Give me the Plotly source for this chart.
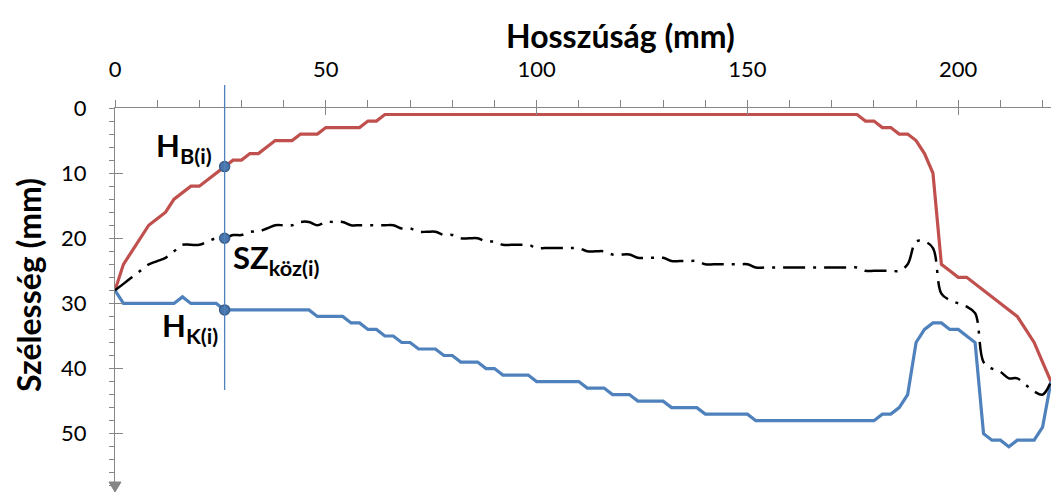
import plotly.graph_objects as go

# ---- data ----
X_MM = list(range(0, 224, 2))  # Hosszúság (mm)

HB = [28, 24, 22, 20, 18, 17, 16, 14, 13, 12,
      12, 11, 10, 9, 8, 8, 7, 7, 6, 5,
      5, 5, 4, 4, 4, 3, 3, 3, 3, 3,
      2, 2, 1, 1, 1, 1, 1, 1, 1, 1,
      1, 1, 1, 1, 1, 1, 1, 1, 1, 1,
      1, 1, 1, 1, 1, 1, 1, 1, 1, 1,
      1, 1, 1, 1, 1, 1, 1, 1, 1, 1,
      1, 1, 1, 1, 1, 1, 1, 1, 1, 1,
      1, 1, 1, 1, 1, 1, 1, 1, 1, 2,
      2, 3, 3, 4, 4, 5, 7, 10, 24, 25,
      26, 26, 27, 28, 29, 30, 31, 32, 34, 36,
      39, 42]

HK = [28, 30, 30, 30, 30, 30, 30, 30, 29, 30,
      30, 30, 30, 31, 31, 31, 31, 31, 31, 31,
      31, 31, 31, 31, 32, 32, 32, 32, 33, 33,
      34, 34, 35, 35, 36, 36, 37, 37, 37, 38,
      38, 39, 39, 39, 40, 40, 41, 41, 41, 41,
      42, 42, 42, 42, 42, 42, 43, 43, 43, 44,
      44, 44, 45, 45, 45, 45, 46, 46, 46, 46,
      47, 47, 47, 47, 47, 47, 48, 48, 48, 48,
      48, 48, 48, 48, 48, 48, 48, 48, 48, 48,
      48, 47, 47, 46, 44, 36, 34, 33, 33, 34,
      34, 35, 36, 50, 51, 51, 52, 51, 51, 51,
      49, 42]

SZ = [28, 27, 26, 25, 24, 23.5, 23, 22, 21, 21,
      21, 20.5, 20, 20, 19.5, 19.5, 19, 19, 18.5, 18,
      18, 18, 17.5, 17.5, 18, 17.5, 17.5, 17.5, 18, 18,
      18, 18, 18, 18, 18.5, 18.5, 19, 19, 19, 19.5,
      19.5, 20, 20, 20, 20.5, 20.5, 21, 21, 21, 21,
      21.5, 21.5, 21.5, 21.5, 21.5, 21.5, 22, 22, 22, 22.5,
      22.5, 22.5, 23, 23, 23, 23, 23.5, 23.5, 23.5, 23.5,
      24, 24, 24, 24, 24, 24, 24.5, 24.5, 24.5, 24.5,
      24.5, 24.5, 24.5, 24.5, 24.5, 24.5, 24.5, 24.5, 24.5, 25,
      25, 25, 25, 25, 24, 20.5, 20.5, 21.5, 28.5, 29.5,
      30, 30.5, 31.5, 39, 40, 40.5, 41.5, 41.5, 42.5, 43.5,
      44, 42]

GUIDE_X = 26          # position of the section line i (mm)
GUIDE_BOTTOM = 43.3   # lower end of the section line (mm)
X_MAX = 222
Y_MAX = 58.8

X_TITLE = "Hosszúság (mm)"
Y_TITLE = "Szélesség (mm)"

FONT = "Lato"
AXIS_GRAY = "#868686"
RED = "#C0504D"
BLUE = "#4F81BD"

fig = go.Figure()

fig.add_trace(go.Scatter(x=X_MM, y=HB, mode="lines",
                         line=dict(color=RED, width=3.2), showlegend=False))
fig.add_trace(go.Scatter(x=X_MM, y=HK, mode="lines",
                         line=dict(color=BLUE, width=3.2), showlegend=False))
fig.add_trace(go.Scatter(x=X_MM, y=SZ, mode="lines",
                         line=dict(color="black", width=2.5, shape="spline",
                                   dash="22px,8px,3px,8px"),
                         showlegend=False))

# section line
fig.add_shape(type="line", xref="x", yref="paper",
              x0=GUIDE_X, x1=GUIDE_X,
              y0=1 - GUIDE_BOTTOM / Y_MAX, y1=1 + 23 / 383,
              line=dict(color=BLUE, width=1.3))

gi = X_MM.index(GUIDE_X)
pts_y = [HB[gi], SZ[gi], HK[gi]]
fig.add_trace(go.Scatter(x=[GUIDE_X] * 3, y=pts_y, mode="markers",
                         marker=dict(size=10, color="#4A76AD",
                                     line=dict(color="#385D8A", width=1.5)),
                         showlegend=False))

# overlay axes for the inner half of the crossing major ticks
fig.add_trace(go.Scatter(x=[], y=[], xaxis="x2", yaxis="y2", showlegend=False))

ann_font = dict(family=FONT, size=31, color="black")
fig.add_annotation(x=GUIDE_X - 2.6, y=pts_y[0] - 3.0, xref="x", yref="y",
                   text="<b>H<sub>B(i)</sub></b>", showarrow=False,
                   xanchor="right", yanchor="middle", font=ann_font)
fig.add_annotation(x=GUIDE_X + 1.6, y=pts_y[1] + 3.3, xref="x", yref="y",
                   text="<b>SZ<sub>köz(i)</sub></b>", showarrow=False,
                   xanchor="left", yanchor="middle", font=ann_font)
fig.add_annotation(x=GUIDE_X - 1.2, y=pts_y[2] + 2.7, xref="x", yref="y",
                   text="<b>H<sub>K(i)</sub></b>", showarrow=False,
                   xanchor="right", yanchor="middle", font=ann_font)

# axis titles
fig.add_annotation(x=(620 - 115) / 936, y=1, xref="paper", yref="paper",
                   yshift=73, text="<b>" + X_TITLE + "</b>", showarrow=False,
                   xanchor="center", yanchor="middle",
                   font=dict(family=FONT, size=32, color="black"))
fig.add_annotation(x=0, y=1 - (285 - 108) / 383, xref="paper", yref="paper",
                   xshift=-87, text="<b>" + Y_TITLE + "</b>", showarrow=False,
                   textangle=-90, xanchor="center", yanchor="middle",
                   font=dict(family=FONT, size=32, color="black"))

# arrow head at the end of the vertical axis (pixel-sized path)
fig.add_shape(type="path", xref="paper", yref="paper",
              xsizemode="pixel", ysizemode="pixel", xanchor=0, yanchor=0,
              path="M -6,9 L 6,9 L 0,-1 Z",
              fillcolor=AXIS_GRAY, line=dict(color=AXIS_GRAY, width=1))

tick_font = dict(family=FONT, size=22, color="black")

fig.update_layout(
    width=1052, height=493,
    margin=dict(l=115, r=1, t=108, b=2),
    plot_bgcolor="white", paper_bgcolor="white",
    showlegend=False,
    xaxis=dict(range=[0, X_MAX], side="top", showline=True,
               linecolor=AXIS_GRAY, linewidth=1.2,
               ticks="outside", ticklen=7, tickwidth=1.2, tickcolor=AXIS_GRAY,
               tick0=0, dtick=50, tickfont=tick_font, ticklabelstandoff=14,
               showgrid=False, zeroline=False,
               minor=dict(dtick=10, tick0=0, ticks="outside", ticklen=7,
                          tickwidth=1.2, tickcolor=AXIS_GRAY, showgrid=False)),
    yaxis=dict(range=[Y_MAX, 0], showline=True,
               linecolor=AXIS_GRAY, linewidth=1.2,
               ticks="outside", ticklen=5, tickwidth=1.2, tickcolor=AXIS_GRAY,
               tick0=0, dtick=10, tickfont=tick_font, ticklabelstandoff=18,
               showgrid=False, zeroline=False,
               minor=dict(dtick=2, tick0=0, ticks="outside", ticklen=5,
                          tickwidth=1.2, tickcolor=AXIS_GRAY, showgrid=False)),
    xaxis2=dict(range=[0, X_MAX], overlaying="x", side="top", anchor="y2",
                showline=False, ticks="inside", ticklen=7, tickwidth=1.2,
                tickcolor=AXIS_GRAY, tick0=0, dtick=50,
                showticklabels=False, showgrid=False, zeroline=False),
    yaxis2=dict(range=[Y_MAX, 0], overlaying="y", side="left", anchor="x2",
                showline=False, ticks="inside", ticklen=8, tickwidth=1.2,
                tickcolor=AXIS_GRAY, tick0=0, dtick=10,
                showticklabels=False, showgrid=False, zeroline=False),
)

fig.write_html("out.html",
               config={"displayModeBar": False},
               post_script="document.body.style.margin='0px';"
                           "document.body.style.overflow='hidden';")
